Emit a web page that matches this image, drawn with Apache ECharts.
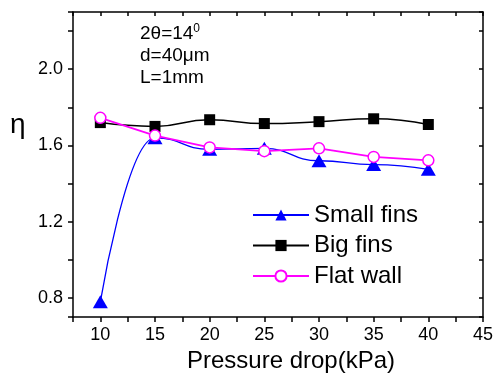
<!DOCTYPE html>
<html>
<head>
<meta charset="utf-8">
<script src="https://cdn.jsdelivr.net/npm/echarts@6/dist/echarts.min.js"></script>
<style>
  html, body { margin: 0; padding: 0; background: #fff; }
  #chart { width: 496px; height: 378px; }
</style>
</head>
<body>
<div id="chart"></div>
<script>
var pressure = [10, 15, 20, 25, 30, 35, 40];
var smallFins = [0.78, 1.64, 1.58, 1.585, 1.52, 1.50, 1.475];
var bigFins = [1.72, 1.70, 1.735, 1.715, 1.725, 1.74, 1.71];
var flatWall = [1.745, 1.652, 1.59, 1.57, 1.585, 1.54, 1.522];
var xLabels = [10, 15, 20, 25, 30, 35, 40, 45];
var yLabels = [0.8, 1.2, 1.6, 2.0];

var font = 'Liberation Sans, Arial, sans-serif';

function pairs(ys) {
  return pressure.map(function (x, i) { return [x, ys[i]]; });
}

function xFmt(v) {
  return xLabels.indexOf(Math.round(v * 10) / 10) >= 0 ? String(v) : '';
}
function yFmt(v) {
  for (var i = 0; i < yLabels.length; i++) {
    if (Math.abs(yLabels[i] - v) < 1e-6) return yLabels[i].toFixed(1);
  }
  return '';
}

var chart = echarts.init(document.getElementById('chart'));

var axisLine = { show: true, lineStyle: { color: '#000', width: 1.5 } };

var option = {
  animation: false,
  textStyle: { fontFamily: font },
  grid: { left: 73, right: 11, top: 12, bottom: 59 },
  legend: {
    orient: 'vertical',
    left: 247,
    top: 198,
    itemWidth: 56,
    itemHeight: 14,
    itemGap: 6.5,
    textStyle: { fontSize: 24, color: '#000', lineHeight: 24 },
    data: ['Small fins', 'Big fins', 'Flat wall']
  },
  graphic: [
    {
      type: 'text', left: 10, top: 111,
      style: { text: 'η', font: '28px ' + font, fill: '#000' }
    },
    {
      type: 'text', left: 140, top: 23,
      style: {
        text: '2θ=14{s|0}\nd=40μm\nL=1mm',
        fontSize: 19, fontFamily: font, lineHeight: 22, fill: '#000',
        rich: { s: { fontSize: 12, verticalAlign: 'top', lineHeight: 22, padding: [0, 0, 10, 0] } }
      }
    }
  ],
  xAxis: [
    {
      type: 'value', min: 7.5, max: 45, interval: 2.5,
      position: 'bottom',
      axisLine: axisLine,
      axisTick: { show: true, inside: false, length: 5, lineStyle: { color: '#000', width: 1.5 } },
      axisLabel: { formatter: xFmt, fontSize: 18, color: '#000', margin: 9, fontFamily: font },
      splitLine: { show: false },
      name: 'Pressure drop(kPa)',
      nameLocation: 'middle',
      nameGap: 31,
      nameTextStyle: { fontSize: 24, color: '#000', padding: [0, 0, 0, 26], fontFamily: font }
    },
    {
      type: 'value', min: 7.5, max: 45, interval: 2.5,
      position: 'top',
      axisLine: axisLine,
      axisTick: { show: true, inside: true, length: 4, lineStyle: { color: '#000', width: 1.5 } },
      axisLabel: { show: false },
      splitLine: { show: false }
    }
  ],
  yAxis: [
    {
      type: 'value', min: 0.7, max: 2.3, splitNumber: 8,
      position: 'left',
      axisLine: axisLine,
      axisTick: { show: true, inside: false, length: 5, lineStyle: { color: '#000', width: 1.5 } },
      axisLabel: { formatter: yFmt, fontSize: 18, color: '#000', margin: 10, fontFamily: font },
      splitLine: { show: false }
    },
    {
      type: 'value', min: 0.7, max: 2.3, splitNumber: 8,
      position: 'right',
      axisLine: axisLine,
      axisTick: { show: true, inside: true, length: 4, lineStyle: { color: '#000', width: 1.5 } },
      axisLabel: { show: false },
      splitLine: { show: false }
    }
  ],
  series: [
    {
      name: 'Small fins', type: 'line', smooth: 0.5, smoothMonotone: 'x',
      data: pairs(smallFins),
      symbol: 'triangle', symbolSize: [15, 13],
      lineStyle: { color: '#0000ff', width: 1.3 },
      itemStyle: { color: '#0000ff' }
    },
    {
      name: 'Big fins', type: 'line', smooth: 0.5,
      data: pairs(bigFins),
      symbol: 'rect', symbolSize: 11,
      lineStyle: { color: '#000', width: 1.5 },
      itemStyle: { color: '#000' }
    },
    {
      name: 'Flat wall', type: 'line',
      data: pairs(flatWall),
      symbol: 'circle', symbolSize: 11,
      lineStyle: { color: '#ff00ff', width: 1.8 },
      itemStyle: { color: '#fff', borderColor: '#ff00ff', borderWidth: 1.5 }
    }
  ]
};

chart.setOption(option);
</script>
</body>
</html>
